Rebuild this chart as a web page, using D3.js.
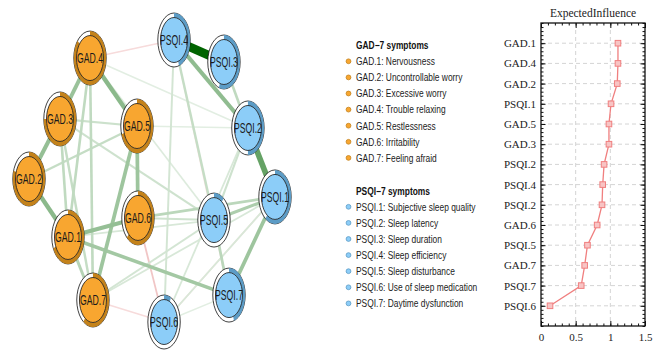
<!DOCTYPE html>
<html>
<head>
<meta charset="utf-8">
<script src="https://cdn.jsdelivr.net/npm/d3@7"></script>
<style>
  body { margin: 0; background: #fff; }
  svg { display: block; }
</style>
</head>
<body>
<svg id="chart" width="669" height="361"></svg>
<script>
// node layout (qgraph-like coordinates, -1..1)
const nodeNames = ["GAD.1", "GAD.2", "GAD.3", "GAD.4", "GAD.5", "GAD.6", "GAD.7",
                   "PSQI.1", "PSQI.2", "PSQI.3", "PSQI.4", "PSQI.5", "PSQI.6", "PSQI.7"];
const nodeGroup = ["GAD", "GAD", "GAD", "GAD", "GAD", "GAD", "GAD",
                   "PSQI", "PSQI", "PSQI", "PSQI", "PSQI", "PSQI", "PSQI"];
const layoutX = [-0.683, -1.0, -0.748, -0.504, -0.122, -0.114, -0.48,
                 1.0, 0.78, 0.585, 0.179, 0.504, 0.098, 0.626];
const layoutY = [0.397, -0.014, -0.44, -0.872, -0.39, 0.262, 0.844,
                 0.113, -0.376, -0.844, -1.0, 0.277, 1.0, 0.809];
// predictability (pie ring)
const predict = [0.68, 0.8, 0.75, 0.86, 0.7, 0.62, 0.6,
                 0.6, 0.5, 0.55, 0.45, 0.1, 0.07, 0.45];

// edges: [from, to, weight] negative weights are red
const edges = [
  ["PSQI.4", "PSQI.3", 1.0],
  ["PSQI.2", "PSQI.1", 0.58],
  ["PSQI.4", "PSQI.2", 0.4],
  ["GAD.4", "GAD.5", 0.42],
  ["GAD.2", "GAD.1", 0.42],
  ["GAD.3", "GAD.2", 0.38],
  ["GAD.4", "GAD.3", 0.36],
  ["GAD.1", "GAD.6", 0.38],
  ["GAD.5", "GAD.6", 0.34],
  ["GAD.5", "GAD.7", 0.34],
  ["GAD.1", "PSQI.7", 0.32],
  ["PSQI.1", "PSQI.7", 0.34],
  ["PSQI.5", "PSQI.1", 0.28],
  ["GAD.6", "PSQI.1", 0.22],
  ["PSQI.5", "PSQI.7", 0.22],
  ["GAD.1", "GAD.7", 0.24],
  ["GAD.4", "GAD.1", 0.2],
  ["GAD.4", "GAD.7", 0.2],
  ["GAD.3", "GAD.1", 0.2],
  ["GAD.3", "GAD.7", 0.18],
  ["GAD.3", "GAD.5", 0.15],
  ["GAD.2", "GAD.5", 0.18],
  ["GAD.3", "PSQI.5", 0.14],
  ["PSQI.3", "PSQI.2", 0.2],
  ["PSQI.4", "PSQI.5", 0.18],
  ["PSQI.4", "PSQI.6", 0.12],
  ["PSQI.2", "PSQI.5", 0.14],
  ["PSQI.2", "PSQI.6", 0.1],
  ["PSQI.6", "PSQI.1", 0.1],
  ["GAD.7", "PSQI.5", 0.12],
  ["GAD.7", "PSQI.1", 0.1],
  ["GAD.6", "PSQI.5", 0.14],
  ["GAD.1", "PSQI.5", 0.1],
  ["GAD.4", "PSQI.2", 0.06],
  ["GAD.5", "PSQI.2", 0.06],
  ["GAD.4", "PSQI.5", 0.08],
  ["PSQI.6", "PSQI.7", 0.06],
  ["GAD.6", "PSQI.6", -0.1],
  ["PSQI.1", "PSQI.6", -0.06],
  ["GAD.4", "PSQI.4", -0.05],
  ["GAD.7", "PSQI.6", -0.05],
  ["PSQI.4", "PSQI.7", -0.04]
];

// legend
const gadTitle = "GAD\u22127 symptoms";
const gadItems = ["GAD.1: Nervousness", "GAD.2: Uncontrollable worry", "GAD.3: Excessive worry",
                  "GAD.4: Trouble relaxing", "GAD.5: Restlessness", "GAD.6: Irritability",
                  "GAD.7: Feeling afraid"];
const psqiTitle = "PSQI\u22127 symptoms";
const psqiItems = ["PSQI.1: Subjective sleep quality", "PSQI.2: Sleep latency", "PSQI.3: Sleep duration",
                   "PSQI.4: Sleep efficiency", "PSQI.5: Sleep disturbance", "PSQI.6: Use of sleep medication",
                   "PSQI.7: Daytime dysfunction"];

// expected influence
const eiLabels = ["GAD.1", "GAD.4", "GAD.2", "PSQI.1", "GAD.5", "GAD.3", "PSQI.2",
                  "PSQI.4", "PSQI.2", "GAD.6", "PSQI.5", "GAD.7", "PSQI.7", "PSQI.6"];
const eiValues = [1.11, 1.11, 1.10, 1.01, 0.98, 0.98, 0.91, 0.89, 0.88, 0.81, 0.67, 0.63, 0.58, 0.13];
const eiTicks = [0, 0.5, 1, 1.5];

const fillCol = { GAD: "#f8a630", PSQI: "#8ccdf8" };
const pieCol = { GAD: "#c4821a", PSQI: "#5c9cc6" };

const svg = d3.select("#chart");

// ---------- network ----------
const nx = d3.scaleLinear().domain([-1, 1]).range([29, 275]);
const ny = d3.scaleLinear().domain([-1, 1]).range([40, 322]);
const idx = {};
nodeNames.forEach((n, i) => idx[n] = i);

const posCol = d3.interpolateRgb("#f0f7f0", "#006400");
const negCol = d3.interpolateRgb("#fcf0f0", "#d04848");
const sorted = [...edges].sort((a, b) => Math.abs(a[2]) - Math.abs(b[2]));

const gEdges = svg.append("g");
sorted.forEach(e => {
  const a = idx[e[0]], b = idx[e[1]];
  const w = Math.abs(e[2]);
  gEdges.append("line")
    .attr("x1", nx(layoutX[a])).attr("y1", ny(layoutY[a]))
    .attr("x2", nx(layoutX[b])).attr("y2", ny(layoutY[b]))
    .attr("stroke", e[2] > 0 ? posCol(w) : negCol(w * 2.5))
    .attr("stroke-width", 1 + w * 8);
});

const R = 27, r = 22.5, sx = 0.6;
const arc = d3.arc().innerRadius(r).outerRadius(R);
const gNodes = svg.append("g");
nodeNames.forEach((n, i) => {
  const cx = nx(layoutX[i]), cy = ny(layoutY[i]);
  const grp = nodeGroup[i];
  const g = gNodes.append("g").attr("transform", `translate(${cx},${cy}) scale(${sx},1)`);
  g.append("circle").attr("r", R).attr("fill", "#fff").attr("stroke", "#111").attr("stroke-width", 1);
  g.append("path")
    .attr("d", arc({ startAngle: 0, endAngle: predict[i] * 2 * Math.PI }))
    .attr("fill", pieCol[grp]);
  g.append("circle").attr("r", r).attr("fill", fillCol[grp]).attr("stroke", "#111").attr("stroke-width", 1);
  gNodes.append("text")
    .attr("transform", `translate(${cx},${cy}) scale(0.62,1)`)
    .attr("text-anchor", "middle")
    .attr("dominant-baseline", "central")
    .style("font-family", "Liberation Sans, Arial, sans-serif")
    .style("font-size", "14px")
    .attr("fill", "#1a1a1a")
    .text(n);
});

// ---------- legend ----------
function legendBlock(title, items, y0, grp) {
  const g = svg.append("g");
  g.append("text")
    .attr("transform", `translate(356,${y0}) scale(0.8,1)`)
    .attr("dominant-baseline", "central")
    .style("font-family", "Liberation Sans, Arial, sans-serif")
    .style("font-size", "10.5px").style("font-weight", "bold")
    .attr("fill", "#111")
    .text(title);
  items.forEach((t, k) => {
    const yy = y0 + 16.1 * (k + 1);
    g.append("circle").attr("cx", 348.5).attr("cy", yy).attr("r", 2.4)
      .attr("fill", fillCol[grp]).attr("stroke", pieCol[grp]).attr("stroke-width", 0.8);
    g.append("text")
      .attr("transform", `translate(356,${yy}) scale(0.8,1)`)
      .attr("dominant-baseline", "central")
      .style("font-family", "Liberation Sans, Arial, sans-serif")
      .style("font-size", "10.5px")
      .attr("fill", "#222")
      .text(t);
  });
}
legendBlock(gadTitle, gadItems, 45.2, "GAD");
legendBlock(psqiTitle, psqiItems, 190.7, "PSQI");

// ---------- expected influence ----------
const pLeft = 541, pRight = 645, pTop = 23, pBottom = 326;
const x = d3.scaleLinear().domain([0, 1.5]).range([pLeft, pRight]);
const y = d3.scaleLinear().domain([-1, eiLabels.length]).range([pTop, pBottom]);
const serif = "Liberation Serif, Times New Roman, serif";

const gc = svg.append("g");
// grid
gc.selectAll(".hg").data(d3.range(eiLabels.length)).join("line")
  .attr("x1", pLeft).attr("x2", pRight).attr("y1", d => y(d)).attr("y2", d => y(d))
  .attr("stroke", "#d4d4d4").attr("stroke-dasharray", "4,3");
gc.selectAll(".vg").data([0.5, 1]).join("line")
  .attr("x1", d => x(d)).attr("x2", d => x(d)).attr("y1", pTop).attr("y2", pBottom)
  .attr("stroke", "#d4d4d4").attr("stroke-dasharray", "4,3");

const minorX = d3.range(0, 1.501, 0.1);
const minorY = d3.range(-1, eiLabels.length + 0.001, 0.2);

function styleAxis(g) {
  g.select(".domain").remove();
  g.selectAll(".tick line").attr("stroke", "#111");
  g.selectAll("text").style("font-family", serif).style("font-size", "11px").attr("fill", "#222");
}

gc.append("g").attr("transform", `translate(0,${pBottom})`)
  .call(d3.axisBottom(x).tickValues(eiTicks).tickFormat(d3.format("")).tickSize(-5).tickPadding(7))
  .call(styleAxis);
gc.append("g").attr("transform", `translate(0,${pBottom})`)
  .call(d3.axisBottom(x).tickValues(minorX).tickFormat("").tickSize(-2.5)).call(styleAxis);
gc.append("g").attr("transform", `translate(0,${pTop})`)
  .call(d3.axisTop(x).tickValues(eiTicks).tickFormat("").tickSize(-5)).call(styleAxis);
gc.append("g").attr("transform", `translate(0,${pTop})`)
  .call(d3.axisTop(x).tickValues(minorX).tickFormat("").tickSize(-2.5)).call(styleAxis);

gc.append("g").attr("transform", `translate(${pLeft},0)`)
  .call(d3.axisLeft(y).tickValues(d3.range(eiLabels.length)).tickFormat(i => eiLabels[i]).tickSize(-4.5).tickPadding(5))
  .call(styleAxis);
gc.append("g").attr("transform", `translate(${pLeft},0)`)
  .call(d3.axisLeft(y).tickValues(minorY).tickFormat("").tickSize(-2.5)).call(styleAxis);
gc.append("g").attr("transform", `translate(${pRight},0)`)
  .call(d3.axisRight(y).tickValues(d3.range(eiLabels.length)).tickFormat("").tickSize(-4.5)).call(styleAxis);
gc.append("g").attr("transform", `translate(${pRight},0)`)
  .call(d3.axisRight(y).tickValues(minorY).tickFormat("").tickSize(-2.5)).call(styleAxis);

gc.append("rect").attr("x", pLeft).attr("y", pTop).attr("width", pRight - pLeft).attr("height", pBottom - pTop)
  .attr("fill", "none").attr("stroke", "#111").attr("stroke-width", 1.3);

const line = d3.line().x(d => x(d)).y((d, i) => y(i));
gc.append("path").datum(eiValues).attr("d", line)
  .attr("fill", "none").attr("stroke", "#f07f7f").attr("stroke-width", 1.3);
gc.selectAll(".pt").data(eiValues).join("rect")
  .attr("x", d => x(d) - 2.8).attr("y", (d, i) => y(i) - 2.8)
  .attr("width", 5.6).attr("height", 5.6)
  .attr("fill", "#f8c4c4").attr("stroke", "#f07f7f").attr("stroke-width", 1);

gc.append("text").attr("x", (pLeft + pRight) / 2).attr("y", 17)
  .attr("text-anchor", "middle")
  .style("font-family", serif).style("font-size", "11.5px").attr("fill", "#222")
  .text("ExpectedInfluence");
</script>
</body>
</html>
